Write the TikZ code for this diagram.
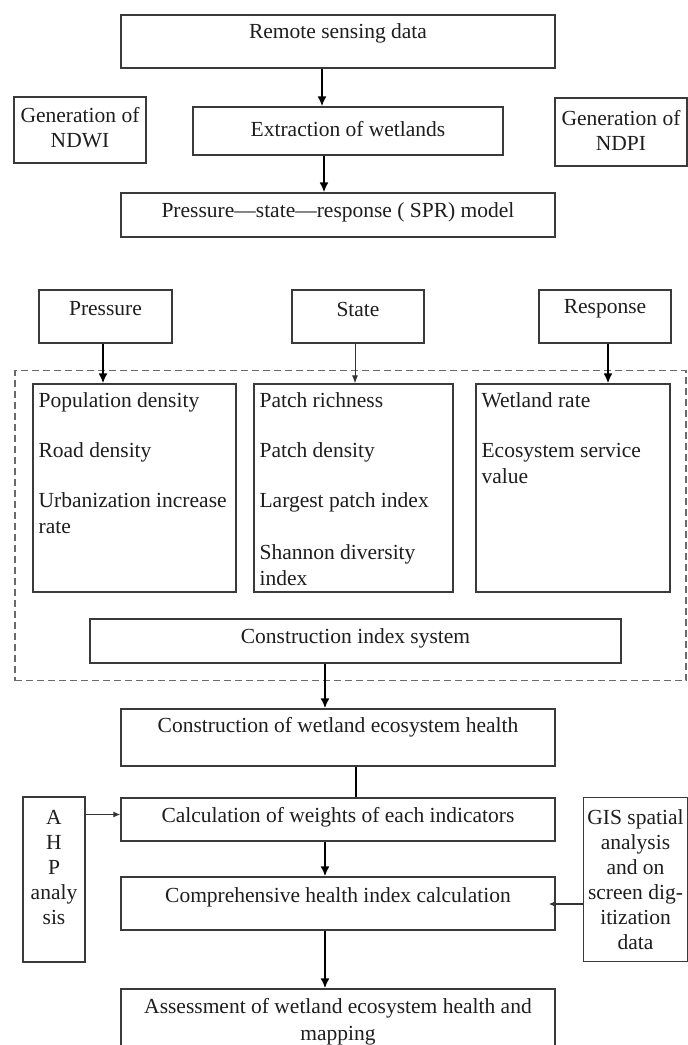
\documentclass[tikz,border=0pt]{standalone}
\usepackage{fontspec}
\setmainfont{Liberation Serif}
\usetikzlibrary{arrows.meta}
\definecolor{boxc}{HTML}{3A3A3A}
\definecolor{txtc}{HTML}{1E1E1E}
\definecolor{dashc}{HTML}{6A6A6A}
\tikzset{
  box/.style={draw=boxc, line width=1.2pt, inner sep=0pt},
  txt/.style={text=txtc, inner sep=0pt, font=\fontsize{21.5}{25}\selectfont, align=center},
  itxt/.style={text=txtc, inner sep=0pt, font=\fontsize{21.5}{26}\selectfont, align=left, anchor=north west},
  tarrow/.style={line width=2.6pt, draw=black, -{Latex[length=10pt,width=9pt]}},
  narrow/.style={line width=1pt, draw=black!80, -{Latex[length=8pt,width=6pt]}},
  marrow/.style={line width=1.5pt, draw=black!80, -{Latex[length=7pt,width=6pt]}},
  plainline/.style={line width=2pt, draw=black}
}
\begin{document}
\begin{tikzpicture}[x=1pt,y=-1pt]
\useasboundingbox[fill=white] (0,0) rectangle (688,1045);

% top boxes
\node[box, minimum width=434pt, minimum height=53pt] (rs) at (338,41.5) {};
\node[txt] (rs-t) at (338,33) {Remote sensing data};
\node[box, minimum width=132pt, minimum height=66pt] (ndwi) at (80,130) {};
\node[txt] (ndwi-t) at (80,128) {Generation of\\NDWI};
\node[box, minimum width=310pt, minimum height=48pt] (ext) at (348,131) {};
\node[txt] (ext-t) at (348,129) {Extraction of wetlands};
\node[box, minimum width=132pt, minimum height=68pt] (ndpi) at (621,132) {};
\node[txt] (ndpi-t) at (621,130) {Generation of\\NDPI};
\node[box, minimum width=434pt, minimum height=44pt] (spr) at (338,215) {};
\node[txt] (spr-t) at (338,212) {Pressure—state—response ( SPR) model};

% P S R
\node[box, minimum width=133pt, minimum height=53pt] (pre) at (105.5,316.5) {};
\node[txt] (pre-t) at (105.5,309) {Pressure};
\node[box, minimum width=132pt, minimum height=53pt] (sta) at (358,316.5) {};
\node[txt] (sta-t) at (358,309) {State};
\node[box, minimum width=132pt, minimum height=53pt] (res) at (605,316.5) {};
\node[txt] (res-t) at (605,309) {Response};

% dashed frame
\node[draw=dashc, line width=1.2pt, dash pattern=on 7pt off 4pt, inner sep=0pt,
      minimum width=671pt, minimum height=310pt] (frame) at (350.5,525.5) {};

% indicator boxes
\node[box, minimum width=203pt, minimum height=208pt] (ib1) at (134.5,488) {};
\node[itxt] (ib1-t) at ([xshift=6pt,yshift=-9pt]ib1.north west)
  {Population density\\[24pt]Road density\\[24pt]Urbanization increase\\rate};
\node[box, minimum width=199pt, minimum height=208pt] (ib2) at (353.5,488) {};
\node[itxt] (ib2-t) at ([xshift=6pt,yshift=-9pt]ib2.north west)
  {Patch richness\\[24pt]Patch density\\[24pt]Largest patch index\\[26pt]Shannon diversity\\index};
\node[box, minimum width=194pt, minimum height=208pt] (ib3) at (573,488) {};
\node[itxt] (ib3-t) at ([xshift=6pt,yshift=-9pt]ib3.north west)
  {Wetland rate\\[24pt]Ecosystem service\\value};

\node[box, minimum width=531pt, minimum height=44pt] (cis) at (355.5,641) {};
\node[txt] (cis-t) at (355.5,638.5) {Construction index system};

% lower chain
\node[box, minimum width=434pt, minimum height=57pt] (cwe) at (338,737.5) {};
\node[txt] (cwe-t) at (338,727) {Construction of wetland ecosystem health};
\node[box, minimum width=434pt, minimum height=43pt] (calc) at (338,819.5) {};
\node[txt] (calc-t) at (338,817) {Calculation of weights of each indicators};
\node[box, minimum width=434pt, minimum height=53pt] (comp) at (338,903.5) {};
\node[txt] (comp-t) at (338,897) {Comprehensive health index calculation};
\node[box, minimum width=434pt, minimum height=59pt] (assess) at (338,1018.5) {};
\node[txt, font=\fontsize{21.5}{27}\selectfont] (assess-t) at (338,1022) {Assessment of wetland ecosystem health and\\mapping};

\node[box, minimum width=62pt, minimum height=165pt] (ahp) at (54,879.5) {};
\node[txt] (ahp-t) at (54,867.5) {A\\H\\P\\analy\\sis};
\node[box, minimum width=104pt, minimum height=164pt] (gis) at (635.5,879.5) {};
\node[txt] (gis-t) at (635.5,880) {GIS spatial\\analysis\\and on\\screen dig-\\itization\\data};

% connectors
\draw[tarrow] ([xshift=-16pt]rs.south) -- ([xshift=-16pt]rs.south |- ext.north);
\draw[tarrow] ([xshift=-24pt]ext.south) -- ([xshift=-24pt]ext.south |- spr.north);
\draw[tarrow] ([xshift=-2.5pt]pre.south) -- ([xshift=-2.5pt]pre.south |- ib1.north);
\draw[narrow] ([xshift=-3pt]sta.south) -- ([xshift=-3pt]sta.south |- ib2.north);
\draw[tarrow] ([xshift=3pt]res.south) -- ([xshift=3pt]res.south |- ib3.north);
\draw[tarrow] ([xshift=-30.5pt]cis.south) -- ([xshift=-30.5pt]cis.south |- cwe.north);
\draw[plainline] ([xshift=18pt]cwe.south) -- ([xshift=18pt]cwe.south |- calc.north);
\draw[tarrow] ([xshift=-13pt]calc.south) -- ([xshift=-13pt]calc.south |- comp.north);
\draw[tarrow] ([xshift=-13pt]comp.south) -- ([xshift=-13pt]comp.south |- assess.north);
\draw[marrow] ([yshift=5pt]calc.west -| ahp.east) -- ([yshift=5pt]calc.west);
\draw[marrow] ([yshift=-0.5pt]comp.east -| gis.west) -- ([xshift=-7pt,yshift=-0.5pt]comp.east);
\end{tikzpicture}
\end{document}
